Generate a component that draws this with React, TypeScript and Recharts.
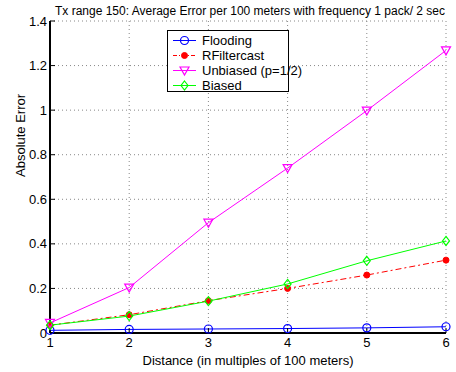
import { LineChart, Line, XAxis, YAxis, CartesianGrid, Legend } from 'recharts';

// Distance in multiples of 100 m
const distances = [1, 2, 3, 4, 5, 6];
const flooding = [0.012, 0.016, 0.018, 0.02, 0.023, 0.028];
const rfiltercast = [0.035, 0.082, 0.145, 0.2, 0.26, 0.327];
const unbiased = [0.045, 0.204, 0.495, 0.74, 0.998, 1.268];
const biased = [0.035, 0.076, 0.143, 0.22, 0.324, 0.413];
const yTicks = [0, 0.2, 0.4, 0.6, 0.8, 1, 1.2, 1.4];

const data = distances.map((d, i) => ({
    distance: d,
    flooding: flooding[i],
    rfiltercast: rfiltercast[i],
    unbiased: unbiased[i],
    biased: biased[i],
}));

const FONT = '"Liberation Sans", Arial, sans-serif';

type Marker = 'circle' | 'star' | 'triangle' | 'diamond';

function markerShape(kind: Marker, cx: number, cy: number, color: string) {
    switch (kind) {
        case 'circle':
            return <circle cx={cx} cy={cy} r={4} fill="none" stroke={color} strokeWidth={1.2} />;
        case 'star':
            return <circle cx={cx} cy={cy} r={3} fill={color} stroke={color} strokeWidth={1} />;
        case 'triangle':
            return (
                <polygon
                    points={`${cx - 4.5},${cy - 3.5} ${cx + 4.5},${cy - 3.5} ${cx},${cy + 4.5}`}
                    fill="none"
                    stroke={color}
                    strokeWidth={1.2}
                />
            );
        case 'diamond':
            return (
                <polygon
                    points={`${cx},${cy - 4.5} ${cx + 3.5},${cy} ${cx},${cy + 4.5} ${cx - 3.5},${cy}`}
                    fill="none"
                    stroke={color}
                    strokeWidth={1.2}
                />
            );
    }
}

const series: { key: string; name: string; color: string; marker: Marker; dash?: string }[] = [
    { key: 'flooding', name: 'Flooding', color: '#0000ff', marker: 'circle' },
    { key: 'rfiltercast', name: 'RFiltercast', color: '#ff0000', marker: 'star', dash: '6 3 2 3' },
    { key: 'unbiased', name: 'Unbiased (p=1/2)', color: '#ff00ff', marker: 'triangle' },
    { key: 'biased', name: 'Biased', color: '#00ff00', marker: 'diamond' },
];

function LegendBox() {
    return (
        <div
            style={{
                border: '1.5px solid #000',
                background: '#fff',
                width: 120,
                height: 58,
                paddingTop: 2,
                fontFamily: FONT,
                fontSize: 13,
                lineHeight: '15px',
                textAlign: 'left',
            }}
        >
            {series.map((s) => (
                <div key={s.key} style={{ display: 'flex', alignItems: 'center', height: 15 }}>
                    <svg width={34} height={15} style={{ flex: 'none' }}>
                        <line x1={5} y1={7.5} x2={28} y2={7.5} stroke={s.color} strokeWidth={1} strokeDasharray={s.dash ? '4 2 1 2' : undefined} />
                        {markerShape(s.marker, 16.5, 7.5, s.color)}
                    </svg>
                    <span style={{ whiteSpace: 'nowrap', color: '#000' }}>{s.name}</span>
                </div>
            ))}
        </div>
    );
}

export default function App() {
    return (
        <div style={{ position: 'absolute', left: 0, top: 0, width: 456, height: 372, background: '#fff' }}>
            <div
                style={{
                    position: 'absolute',
                    left: 50,
                    width: 400,
                    top: 4,
                    textAlign: 'center',
                    fontFamily: FONT,
                    fontSize: 12,
                    whiteSpace: 'nowrap',
                    color: '#000',
                }}
            >
                Tx range 150: Average Error per 100 meters with frequency 1 pack/ 2 sec
            </div>
            <LineChart width={456} height={372} data={data} margin={{ top: 21, right: 10, left: 0, bottom: 0 }}>
                <CartesianGrid stroke="#888" strokeDasharray="1 3" strokeWidth={1} />
                <XAxis
                    dataKey="distance"
                    type="number"
                    domain={[1, 6]}
                    ticks={distances}
                    height={39}
                    tickSize={-5}
                    tickMargin={10}
                    axisLine={{ stroke: '#000', strokeWidth: 2 }}
                    tickLine={{ stroke: '#000' }}
                    tick={{ fill: '#000', fontSize: 13, fontFamily: FONT }}
                    label={{ value: 'Distance (in multiples of 100 meters)', position: 'insideBottom', offset: 7, fill: '#000', fontSize: 13, fontFamily: FONT }}
                />
                <XAxis
                    xAxisId="top"
                    orientation="top"
                    dataKey="distance"
                    type="number"
                    domain={[1, 6]}
                    ticks={distances}
                    height={0}
                    tickSize={-5}
                    tickFormatter={() => ''}
                    axisLine={{ stroke: '#000', strokeWidth: 1 }}
                    tickLine={{ stroke: '#000' }}
                />
                <YAxis
                    domain={[0, 1.4]}
                    ticks={yTicks}
                    width={50}
                    tickSize={-5}
                    tickMargin={8}
                    axisLine={{ stroke: '#000', strokeWidth: 2 }}
                    tickLine={{ stroke: '#000' }}
                    tick={{ fill: '#000', fontSize: 13, fontFamily: FONT }}
                    label={{ value: 'Absolute Error', angle: -90, position: 'insideLeft', offset: 20, fill: '#000', fontSize: 13, fontFamily: FONT }}
                />
                <YAxis
                    yAxisId="right"
                    orientation="right"
                    domain={[0, 1.4]}
                    ticks={yTicks}
                    width={0}
                    tickSize={-5}
                    tickFormatter={() => ''}
                    axisLine={{ stroke: '#000', strokeWidth: 2 }}
                    tickLine={{ stroke: '#000' }}
                />
                {series.map((s) => (
                    <Line
                        key={s.key}
                        dataKey={s.key}
                        name={s.name}
                        stroke={s.color}
                        strokeWidth={1}
                        strokeDasharray={s.dash}
                        isAnimationActive={false}
                        dot={(p: any) => <g key={`${s.key}-${p.index}`}>{markerShape(s.marker, p.cx, p.cy, s.color)}</g>}
                        activeDot={false}
                    />
                ))}
                <Legend
                    layout="vertical"
                    align="center"
                    verticalAlign="middle"
                    wrapperStyle={{ position: 'absolute', left: 167, top: 30, width: 122 }}
                    content={() => <LegendBox />}
                />
            </LineChart>
        </div>
    );
}
